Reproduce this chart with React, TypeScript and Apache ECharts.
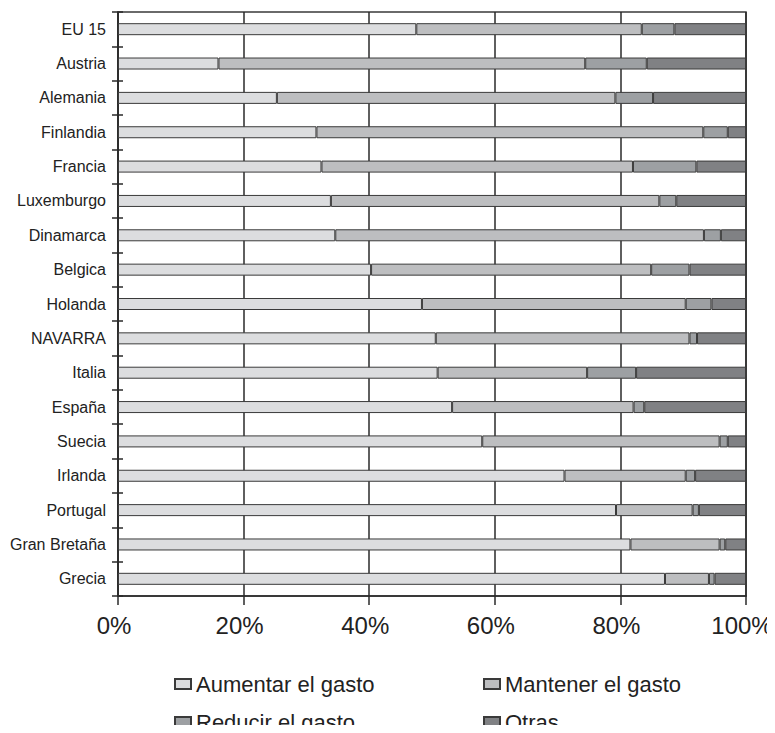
import React, { useEffect, useRef } from "react";
import * as echarts from "echarts";

const categories = [
  "EU 15", "Austria", "Alemania", "Finlandia", "Francia", "Luxemburgo", "Dinamarca",
  "Belgica", "Holanda", "NAVARRA", "Italia", "España", "Suecia", "Irlanda",
  "Portugal", "Gran Bretaña", "Grecia",
];
const aumentar = [47.5, 16.0, 25.3, 31.6, 32.4, 33.9, 34.6, 40.3, 48.4, 50.6, 50.9, 53.2, 58.0, 71.1, 79.3, 81.6, 87.1];
const mantener = [35.9, 58.4, 53.9, 61.6, 49.6, 52.3, 58.7, 44.6, 42.0, 40.4, 23.8, 28.9, 37.8, 19.3, 12.2, 14.2, 7.0];
const reducir = [5.2, 9.8, 6.0, 3.9, 10.1, 2.7, 2.7, 6.1, 4.1, 1.2, 7.8, 1.7, 1.3, 1.5, 1.0, 0.9, 0.9];
const otras = [11.4, 15.8, 14.8, 2.9, 7.9, 11.1, 4.0, 9.0, 5.5, 7.8, 17.5, 16.2, 2.9, 8.1, 7.5, 3.3, 5.0];
const seriesNames = ["Aumentar el gasto", "Mantener el gasto", "Reducir el gasto", "Otras"];
const seriesColors = ["#dcdddf", "#bdbec0", "#9da0a3", "#808184"];

const FONT = "'Liberation Sans', Arial, Helvetica, sans-serif";
const DARK = "#2a2a2a";

export default function App() {
  const ref = useRef<HTMLDivElement>(null);
  useEffect(() => {
    if (!ref.current) return;
    const chart = echarts.init(ref.current, undefined, { renderer: "svg" });
    const dataSets = [aumentar, mantener, reducir, otras];
    const legendPos = [
      { left: 174, top: 673 },
      { left: 483, top: 673 },
      { left: 174, top: 711 },
      { left: 483, top: 711 },
    ];
    chart.setOption({
      animation: false,
      backgroundColor: "#ffffff",
      grid: {
        left: 118,
        right: 29,
        top: 12,
        bottom: 137,
        outerBoundsMode: "none",
        containLabel: false,
        show: true,
        borderColor: "#3a3a3a",
        borderWidth: 1.5,
        backgroundColor: "transparent",
      },
      xAxis: {
        type: "value",
        min: 0,
        max: 100,
        interval: 20,
        axisLine: { show: true, lineStyle: { color: DARK, width: 1.5 } },
        axisTick: { show: true, length: 9, lineStyle: { color: DARK, width: 1.5 } },
        splitLine: { show: true, lineStyle: { color: DARK, width: 1.5 } },
        axisLabel: {
          formatter: "{value}%",
          fontSize: 24,
          fontFamily: FONT,
          color: "#222",
          margin: 17,
          padding: [0, 8, 0, 0],
        },
      },
      yAxis: [
        {
          type: "category",
          data: categories,
          inverse: true,
          axisLine: { show: true, lineStyle: { color: DARK, width: 1.5 } },
          axisTick: { show: true, length: 6, lineStyle: { color: DARK, width: 1.5 } },
          axisLabel: {
            fontSize: 16,
            fontFamily: FONT,
            color: "#222",
            margin: 12,
          },
        },
        {
          type: "category",
          data: categories,
          inverse: true,
          position: "left",
          axisLine: { show: false },
          axisTick: { show: true, inside: true, length: 5, lineStyle: { color: DARK, width: 1.5 } },
          axisLabel: { show: false },
        },
      ],
      legend: seriesNames.map((name, i) => ({
        left: legendPos[i].left,
        top: legendPos[i].top,
        padding: 0,
        data: [name],
        icon: "rect",
        itemWidth: 16,
        itemHeight: 10,
        textStyle: { fontSize: 22, fontFamily: FONT, color: "#222" },
      })),
      series: seriesNames.map((name, i) => ({
        name,
        type: "bar",
        stack: "total",
        barWidth: 12,
        data: dataSets[i],
        itemStyle: { color: seriesColors[i], borderColor: "#3a3a3a", borderWidth: 1 },
        emphasis: { disabled: true },
      })),
    });
    return () => chart.dispose();
  }, []);
  return <div ref={ref} style={{ width: 775, height: 733, margin: -8 }} />;
}
